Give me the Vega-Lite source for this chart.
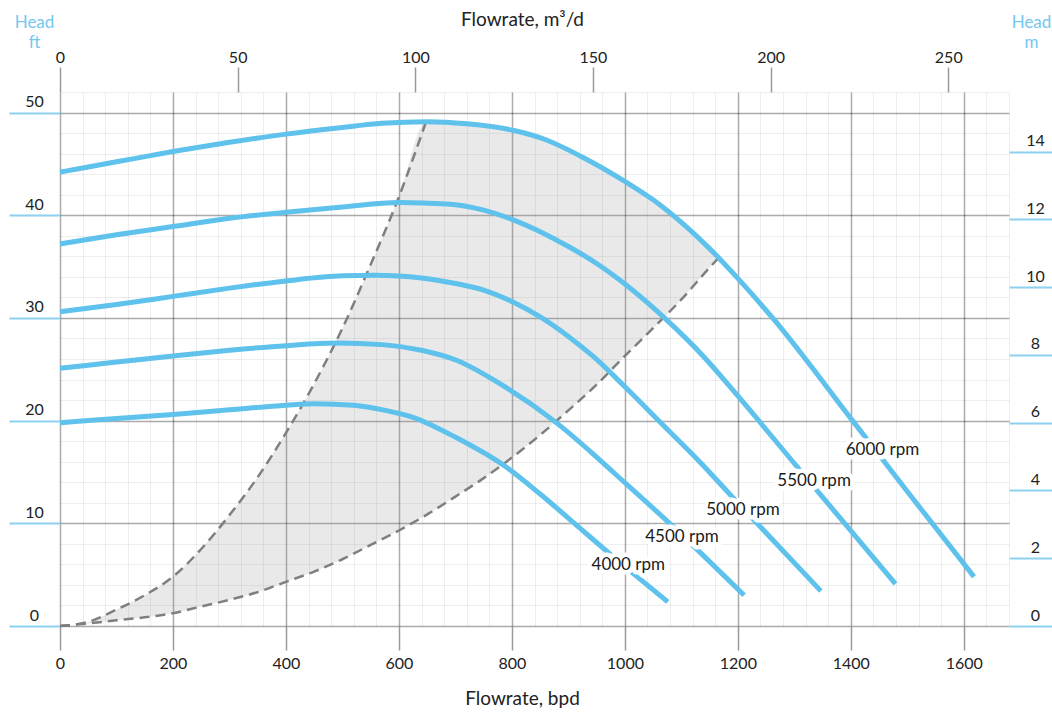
{
"$schema":"https://vega.github.io/schema/vega-lite/v6.json",
"width":949,"height":534,"autosize":"none",
"padding":{"left":60,"top":92,"right":43,"bottom":89},
"background":"white",
"config":{"view":{"stroke":null},"font":"Lato","axis":{"labelFont":"Lato","titleFont":"Lato","labelFontSize":16,"labelColor":"#222222","titleColor":"#222222","titleFontWeight":"normal","domain":false,"labelOverlap":false,"labelFlush":false,"labelBound":false}},
"datasets":{
"curves":[
{"rpm":"6000","q":0,"h":44.2},{"rpm":"6000","q":100,"h":45.2},{"rpm":"6000","q":200,"h":46.2},{"rpm":"6000","q":300,"h":47.1},{"rpm":"6000","q":400,"h":47.9},{"rpm":"6000","q":500,"h":48.55},{"rpm":"6000","q":570,"h":48.95},{"rpm":"6000","q":650,"h":49.1},{"rpm":"6000","q":720,"h":48.9},{"rpm":"6000","q":800,"h":48.3},{"rpm":"6000","q":860,"h":47.35},{"rpm":"6000","q":920,"h":45.8},{"rpm":"6000","q":1000,"h":43.3},{"rpm":"6000","q":1050,"h":41.5},{"rpm":"6000","q":1100,"h":39.3},{"rpm":"6000","q":1150,"h":36.75},{"rpm":"6000","q":1200,"h":33.85},{"rpm":"6000","q":1263,"h":29.9},{"rpm":"6000","q":1403,"h":20.0},{"rpm":"6000","q":1500,"h":13.1},{"rpm":"6000","q":1618,"h":4.8},
{"rpm":"5500","q":0,"h":37.2},{"rpm":"5500","q":100,"h":38.1},{"rpm":"5500","q":200,"h":38.9},{"rpm":"5500","q":300,"h":39.7},{"rpm":"5500","q":400,"h":40.3},{"rpm":"5500","q":500,"h":40.8},{"rpm":"5500","q":600,"h":41.25},{"rpm":"5500","q":685,"h":41.1},{"rpm":"5500","q":750,"h":40.5},{"rpm":"5500","q":800,"h":39.6},{"rpm":"5500","q":850,"h":38.4},{"rpm":"5500","q":900,"h":36.95},{"rpm":"5500","q":950,"h":35.3},{"rpm":"5500","q":1000,"h":33.3},{"rpm":"5500","q":1072,"h":29.9},{"rpm":"5500","q":1140,"h":26.2},{"rpm":"5500","q":1200,"h":22.4},{"rpm":"5500","q":1305,"h":15.5},{"rpm":"5500","q":1479,"h":4.1},
{"rpm":"5000","q":0,"h":30.6},{"rpm":"5000","q":100,"h":31.3},{"rpm":"5000","q":200,"h":32.1},{"rpm":"5000","q":300,"h":32.9},{"rpm":"5000","q":400,"h":33.6},{"rpm":"5000","q":500,"h":34.1},{"rpm":"5000","q":560,"h":34.15},{"rpm":"5000","q":620,"h":34.0},{"rpm":"5000","q":685,"h":33.5},{"rpm":"5000","q":750,"h":32.7},{"rpm":"5000","q":800,"h":31.6},{"rpm":"5000","q":850,"h":30.1},{"rpm":"5000","q":900,"h":28.2},{"rpm":"5000","q":945,"h":26.2},{"rpm":"5000","q":1000,"h":23.3},{"rpm":"5000","q":1067,"h":19.6},{"rpm":"5000","q":1134,"h":15.9},{"rpm":"5000","q":1193,"h":12.4},{"rpm":"5000","q":1347,"h":3.4},
{"rpm":"4500","q":0,"h":25.1},{"rpm":"4500","q":100,"h":25.7},{"rpm":"4500","q":200,"h":26.3},{"rpm":"4500","q":300,"h":26.85},{"rpm":"4500","q":400,"h":27.3},{"rpm":"4500","q":490,"h":27.55},{"rpm":"4500","q":570,"h":27.4},{"rpm":"4500","q":640,"h":26.85},{"rpm":"4500","q":703,"h":25.85},{"rpm":"4500","q":780,"h":23.55},{"rpm":"4500","q":874,"h":20.0},{"rpm":"4500","q":947,"h":16.6},{"rpm":"4500","q":980,"h":14.95},{"rpm":"4500","q":1081,"h":9.9},{"rpm":"4500","q":1211,"h":3.0},
{"rpm":"4000","q":0,"h":19.8},{"rpm":"4000","q":100,"h":20.2},{"rpm":"4000","q":200,"h":20.6},{"rpm":"4000","q":300,"h":21.05},{"rpm":"4000","q":400,"h":21.5},{"rpm":"4000","q":450,"h":21.65},{"rpm":"4000","q":520,"h":21.5},{"rpm":"4000","q":576,"h":21.0},{"rpm":"4000","q":626,"h":20.3},{"rpm":"4000","q":703,"h":18.3},{"rpm":"4000","q":788,"h":15.55},{"rpm":"4000","q":850,"h":12.85},{"rpm":"4000","q":921,"h":9.5},{"rpm":"4000","q":977,"h":6.85},{"rpm":"4000","q":1076,"h":2.35}
],
"region":[
{"q":0,"lo":0,"hi":0},{"q":50,"lo":0.25,"hi":0.4},{"q":100,"lo":0.55,"hi":1.6},{"q":150,"lo":0.85,"hi":3.0},{"q":200,"lo":1.25,"hi":4.8},{"q":250,"lo":1.9,"hi":7.5},{"q":300,"lo":2.55,"hi":10.8},{"q":350,"lo":3.3,"hi":14.5},{"q":400,"lo":4.3,"hi":18.8},{"q":450,"lo":5.3,"hi":23.6},{"q":500,"lo":6.5,"hi":29.0},{"q":550,"lo":7.9,"hi":35.2},{"q":600,"lo":9.3,"hi":41.8},{"q":648,"lo":10.8,"hi":49.1},{"q":700,"lo":12.6,"hi":49.0},{"q":750,"lo":14.4,"hi":48.8},{"q":800,"lo":16.4,"hi":48.3},{"q":850,"lo":18.6,"hi":47.6},{"q":900,"lo":21.0,"hi":46.4},{"q":950,"lo":23.5,"hi":44.9},{"q":1000,"lo":26.3,"hi":43.3},{"q":1050,"lo":29.0,"hi":41.5},{"q":1100,"lo":31.8,"hi":39.3},{"q":1150,"lo":34.9,"hi":36.75},{"q":1166,"lo":35.85,"hi":35.85}
],
"labels":[
{"label":"6000 rpm","q":1456,"h":17.15},{"label":"5500 rpm","q":1335,"h":14.1},{"label":"5000 rpm","q":1209,"h":11.3},{"label":"4500 rpm","q":1101,"h":8.67},{"label":"4000 rpm","q":1006,"h":5.9}
],
"secondary":[{"m3d":0,"m":0},{"m3d":267.1,"m":15.76}]
},
"layer":[
{"layer":[
{"data":{"name":"region"},"mark":{"type":"area","fill":"#999999","fillOpacity":0.21,"interpolate":"monotone"},
"encoding":{
"x":{"field":"q","type":"quantitative","scale":{"domain":[0,1680],"nice":false,"zero":false},
"axis":{"orient":"bottom","tickCount":100,"values":[0,40,80,120,160,200,240,280,320,360,400,440,480,520,560,600,640,680,720,760,800,840,880,920,960,1000,1040,1080,1120,1160,1200,1240,1280,1320,1360,1400,1440,1480,1520,1560,1600,1640,1680],
"format":"d","grid":true,"gridColor":"#000000","labelOverlap":false,
"gridOpacity":{"condition":{"test":"datum.value % 200 === 0","value":0.33},"value":0.065},
"gridWidth":{"condition":{"test":"datum.value % 200 === 0","value":1.5},"value":1},
"tickColor":"#9a9a9a","tickOpacity":{"condition":{"test":"datum.value % 200 === 0","value":1},"value":0},
"tickSize":24,"tickWidth":1.5,
"labelExpr":"datum.value % 200 === 0 ? datum.label : ''",
"labelBaseline":"alphabetic","labelPadding":18,
"title":"Flowrate, bpd","titleFontSize":19,"titleX":462,"titleAlign":"center","titleY":78,"titleBaseline":"alphabetic"}},
"y":{"field":"lo","type":"quantitative","scale":{"domain":[0,52],"nice":false},
"axis":{"orient":"left","tickCount":100,"values":[0,2,4,6,8,10,12,14,16,18,20,22,24,26,28,30,32,34,36,38,40,42,44,46,48,50,52],
"format":"d","grid":true,"gridColor":"#000000","labelOverlap":false,
"gridOpacity":{"condition":{"test":"datum.value % 10 === 0","value":0.33},"value":0.065},
"gridWidth":{"condition":{"test":"datum.value % 10 === 0","value":1.5},"value":1},
"tickColor":"#8ed0f0","tickOpacity":{"condition":{"test":"datum.value % 10 === 0","value":1},"value":0},
"tickSize":51,"tickWidth":2,
"labelExpr":"datum.value % 10 === 0 ? datum.label : ''",
"labelAlign":"center","labelBaseline":"alphabetic","labelPadding":-25,"labelOffset":-6,
"title":["Head","ft"],"titleAngle":0,"titleX":-26,"titleY":-65,"titleAlign":"center","titleBaseline":"alphabetic","titleColor":"#74c7ef","titleFontSize":17,"titleLineHeight":20}},
"y2":{"field":"hi"}}},
{"data":{"name":"region"},"mark":{"type":"line","color":"#7f7f7f","strokeWidth":2.5,"strokeDash":[10,6],"interpolate":"monotone"},
"encoding":{"x":{"field":"q","type":"quantitative"},"y":{"field":"lo","type":"quantitative"}}},
{"data":{"name":"region"},"transform":[{"filter":"datum.q <= 648"}],"mark":{"type":"line","color":"#7f7f7f","strokeWidth":2.5,"strokeDash":[10,6],"interpolate":"monotone"},
"encoding":{"x":{"field":"q","type":"quantitative"},"y":{"field":"hi","type":"quantitative"}}},
{"data":{"name":"curves"},"mark":{"type":"line","color":"#5ec2ec","strokeWidth":5,"interpolate":"monotone","strokeCap":"butt"},
"encoding":{"x":{"field":"q","type":"quantitative"},"y":{"field":"h","type":"quantitative"},"detail":{"field":"rpm","type":"nominal"}}},
{"data":{"name":"labels"},"mark":{"type":"text","font":"Lato","fontSize":17,"fill":"white","stroke":"white","strokeWidth":9,"strokeJoin":"round","align":"center","baseline":"middle"},
"encoding":{"x":{"field":"q","type":"quantitative"},"y":{"field":"h","type":"quantitative"},"text":{"field":"label"}}},
{"data":{"name":"labels"},"mark":{"type":"text","font":"Lato","fontSize":17,"fill":"#1a1a1a","align":"center","baseline":"middle"},
"encoding":{"x":{"field":"q","type":"quantitative"},"y":{"field":"h","type":"quantitative"},"text":{"field":"label"}}}
]},
{"data":{"name":"secondary"},"mark":{"type":"point","opacity":0},
"encoding":{
"x":{"field":"m3d","type":"quantitative","scale":{"domain":[0,267.1],"nice":false},
"axis":{"orient":"top","values":[0,50,100,150,200,250],"tickCount":20,"format":"d","grid":false,"labelOverlap":false,"tickColor":"#9a9a9a","tickSize":25,"tickWidth":1.5,"labelBaseline":"alphabetic","labelPadding":5,
"title":"Flowrate, m³/d","titleFontSize":19,"titleX":462,"titleAlign":"center","titleY":-67,"titleBaseline":"alphabetic"}},
"y":{"field":"m","type":"quantitative","scale":{"domain":[0,15.76],"nice":false},
"axis":{"orient":"right","values":[0,2,4,6,8,10,12,14],"tickCount":20,"format":"d","grid":false,"labelOverlap":false,"tickColor":"#8ed0f0","tickSize":43,"tickWidth":2,
"labelAlign":"center","labelBaseline":"alphabetic","labelPadding":-17,"labelOffset":-6,
"title":["Head","m"],"titleAngle":0,"titleX":22,"titleY":-65,"titleAlign":"center","titleBaseline":"alphabetic","titleColor":"#74c7ef","titleFontSize":17,"titleLineHeight":20}}}}
],
"resolve":{"scale":{"x":"independent","y":"independent"}}
}
